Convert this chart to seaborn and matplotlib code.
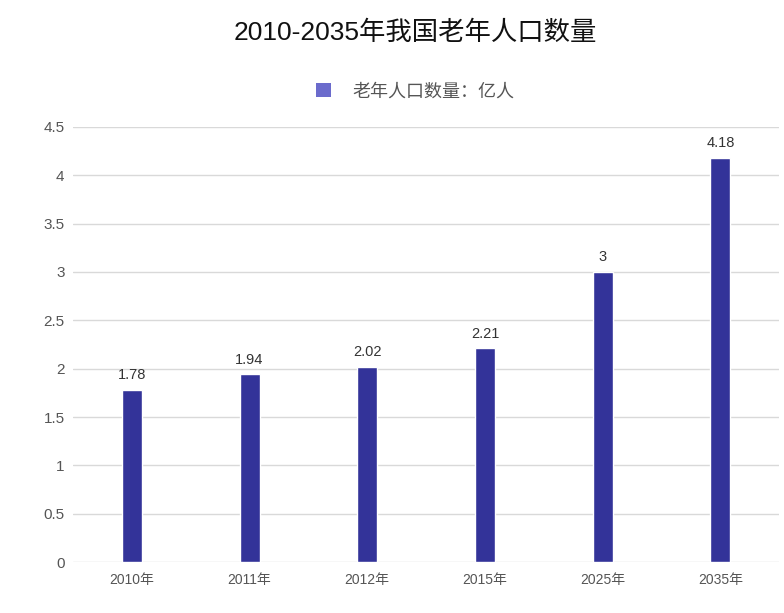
import matplotlib
matplotlib.use("Agg")
import matplotlib.pyplot as plt
import seaborn as sns
import pandas as pd
from matplotlib.patches import Patch

# 数据
years = ["2010年", "2011年", "2012年", "2015年", "2025年", "2035年"]
values = [1.78, 1.94, 2.02, 2.21, 3, 4.18]
value_labels = ["1.78", "1.94", "2.02", "2.21", "3", "4.18"]
y_ticks = [0, 0.5, 1, 1.5, 2, 2.5, 3, 3.5, 4, 4.5]
y_tick_labels = ["0", "0.5", "1", "1.5", "2", "2.5", "3", "3.5", "4", "4.5"]

df = pd.DataFrame({"年份": years, "老年人口数量": values})

sns.set_style("white")
plt.rcParams['font.family'] = ['Liberation Sans', 'Noto Sans CJK SC', 'DejaVu Sans']

fig = plt.figure(figsize=(7.84, 6.13), dpi=100)
ax = fig.add_axes([0.093, 0.083, 0.901, 0.71])

sns.barplot(data=df, x="年份", y="老年人口数量", color="#333399",
            width=0.17, ax=ax, zorder=3, saturation=1)

for i, lab in enumerate(value_labels):
    ax.text(i, values[i] + 0.08, lab, ha="center", va="bottom",
            fontsize=10.5, color="#333333")

ax.set_ylim(0, 4.5)
ax.set_yticks(y_ticks)
ax.set_yticklabels(y_tick_labels)
ax.grid(axis="y", color="#d9d9d9", linewidth=1, zorder=0)
ax.set_axisbelow(True)
for s in ax.spines.values():
    s.set_visible(False)
ax.tick_params(axis="x", length=0, labelsize=10, colors="#555555", pad=8)
ax.tick_params(axis="y", length=0, labelsize=11, colors="#555555", pad=6)
ax.set_xlabel("")
ax.set_ylabel("")

fig.text(0.53, 0.946, "2010-2035年我国老年人口数量", ha="center", va="center",
         fontsize=19, color="#111111")

handle = Patch(facecolor="#6b6bcc", edgecolor="none")
fig.legend([handle], ["老年人口数量：亿人"], loc="center", bbox_to_anchor=(0.53, 0.85),
           frameon=False, fontsize=13, handlelength=0.8, handleheight=0.8,
           handletextpad=1.2, labelcolor="#555555")

fig.savefig("out.png", dpi=100)
